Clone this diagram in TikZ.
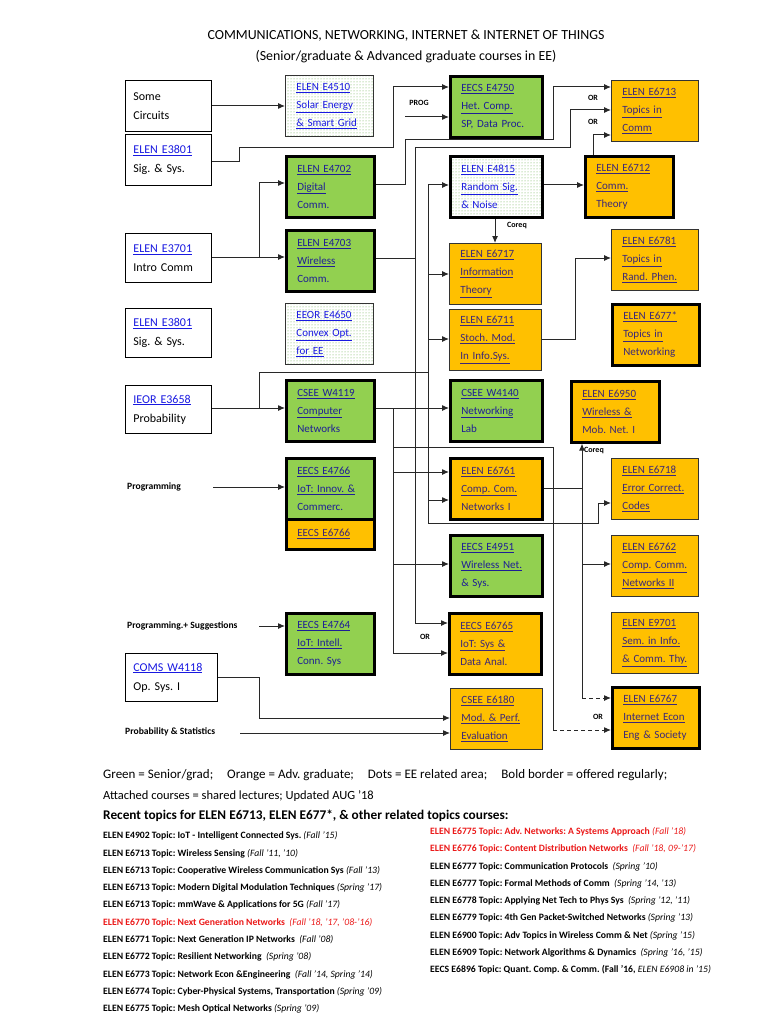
\documentclass[tikz,border=0pt]{standalone}
\usepackage{fontspec}
\setmainfont{Carlito}
\usetikzlibrary{arrows.meta,patterns}
\definecolor{grn}{RGB}{146,208,80}
\definecolor{org}{RGB}{255,192,0}
\definecolor{lnk}{RGB}{25,25,225}
\definecolor{glnk}{RGB}{30,30,150}
\definecolor{olnk}{RGB}{60,40,120}
\definecolor{dotc}{RGB}{100,170,70}
\definecolor{topred}{RGB}{235,25,25}
\definecolor{lin}{RGB}{40,40,40}
\newcommand{\lk}[1]{\underline{#1}}
\newcommand{\tdate}[1]{{\mdseries\itshape #1}}
\frenchspacing
\begin{document}
\begin{tikzpicture}[x=1pt,y=-1pt,
 every node/.style={inner sep=0pt},
 base/.style={anchor=north west, minimum height=61pt, inner xsep=11pt, inner ysep=0pt, align=left, font=\fontsize{11}{18}\selectfont, execute at begin node={\hyphenpenalty=10000\exhyphenpenalty=10000}},
 thinb/.style={draw=black!80, line width=0.8pt},
 boldb/.style={draw=black, line width=2.6pt},
 gbox/.style={base, fill=grn, text=glnk},
 obox/.style={base, fill=org, text=olnk},
 dbox/.style={base, pattern=dots, pattern color=dotc, text=lnk},
 lbox/.style={anchor=north west, draw=black, line width=0.8pt, fill=white, inner xsep=8pt, align=left, font=\fontsize{12}{19}\selectfont, text width=70pt},
 ctwo/.style={text width=66pt},
 cthree/.style={text width=70pt},
 cright/.style={text width=65pt},
 arr/.style={draw=lin, line width=1pt, -{Latex[length=7pt,width=6pt]}},
 ln/.style={draw=lin, line width=1pt},
 dsh/.style={dash pattern=on 4pt off 3pt},
 lbl/.style={font=\fontsize{8}{9}\selectfont\bfseries},
 side/.style={anchor=west, font=\fontsize{9.6}{11}\selectfont\bfseries},
 leg/.style={anchor=west, font=\fontsize{12.5}{14}\selectfont},
 tp/.style={anchor=west, font=\fontsize{9.7}{10}\selectfont\bfseries},
]
\fill[white] (0,0) rectangle (768,1024);
\useasboundingbox (0,0) rectangle (768,1024);

% titles
\node[font=\fontsize{13.9}{15}\selectfont] (t1) at (406,36) {COMMUNICATIONS, NETWORKING, INTERNET \& INTERNET OF THINGS};
\node[font=\fontsize{13.9}{15}\selectfont] (t2) at (406,57) {(Senior/graduate \& Advanced graduate courses in EE)};

% left column
\node[lbox, minimum height=51pt] (circ) at (125,80) {Some\\Circuits};
\node[lbox, minimum height=51pt] (sig1) at (125,134) {\textcolor{lnk}{\lk{ELEN E3801}}\\Sig. \& Sys.};
\node[lbox, minimum height=49pt] (intro) at (125,233) {\textcolor{lnk}{\lk{ELEN E3701}}\\Intro Comm};
\node[lbox, minimum height=49pt] (sig2) at (125,308) {\textcolor{lnk}{\lk{ELEN E3801}}\\Sig. \& Sys.};
\node[lbox, minimum height=48pt] (prob) at (125,385) {\textcolor{lnk}{\lk{IEOR E3658}}\\Probability};
\node[lbox, minimum height=48pt, text width=76pt] (coms) at (125,653) {\textcolor{lnk}{\lk{COMS W4118}}\\Op. Sys. I};

\node[side] (sprog) at (127,487) {Programming};
\node[side] (ssug) at (127,626) {Programming.+ Suggestions};
\node[side] (sstat) at (125,732) {Probability \& Statistics};

% column 2
\node[dbox, thinb, ctwo] (e4510) at (285,75) {\lk{ELEN E4510}\\\lk{Solar Energy}\\\lk{\& Smart Grid}};
\node[gbox, boldb, ctwo] (e4702) at (285,155) {\lk{ELEN E4702}\\\lk{Digital}\\Comm.};
\node[gbox, boldb, ctwo] (e4703) at (285,229) {\lk{ELEN E4703}\\\lk{Wireless}\\Comm.};
\node[dbox, thinb, ctwo] (e4650) at (285,303) {\lk{EEOR E4650}\\\lk{Convex Opt.}\\\lk{for EE}};
\node[gbox, boldb, ctwo] (w4119) at (285,379) {\lk{CSEE W4119}\\\lk{Computer}\\Networks};
\node[gbox, boldb, ctwo] (e4766) at (285,457) {\lk{EECS E4766}\\\lk{IoT: Innov. \&}\\Commerc.};
\node[obox, boldb, ctwo, minimum height=30pt] (e6766) at (285,518) {\lk{EECS E6766}};
\node[gbox, boldb, ctwo] (e4764) at (285,612) {\lk{EECS E4764}\\\lk{IoT: Intell.}\\Conn. Sys};

% column 3
\node[gbox, boldb, cthree] (e4750) at (449,75) {\lk{EECS E4750}\\\lk{Het. Comp.}\\SP, Data Proc.};
\node[dbox, boldb, cthree] (e4815) at (449,155) {\lk{ELEN E4815}\\\lk{Random Sig.}\\\& Noise};
\node[obox, thinb, cthree] (e6717) at (449,243) {\lk{ELEN E6717}\\\lk{Information}\\\lk{Theory}};
\node[obox, thinb, cthree] (e6711) at (449,309) {\lk{ELEN E6711}\\\lk{Stoch. Mod.}\\\lk{In Info.Sys.}};
\node[gbox, boldb, cthree] (w4140) at (449,379) {\lk{CSEE W4140}\\\lk{Networking}\\Lab};
\node[obox, boldb, cthree] (e6761) at (449,457) {\lk{ELEN E6761}\\\lk{Comp. Com.}\\Networks I};
\node[gbox, boldb, cthree] (e4951) at (449,534) {\lk{EECS E4951}\\\lk{Wireless Net.}\\\& Sys.};
\node[obox, boldb, cthree] (e6765) at (448,612) {\lk{EECS E6765}\\\lk{IoT: Sys \&}\\Data Anal.};
\node[obox, thinb, cthree] (e6180) at (450,688) {\lk{CSEE E6180}\\\lk{Mod. \& Perf.}\\\lk{Evaluation}};

% right column
\node[obox, thinb, cright] (e6713) at (611,80) {\lk{ELEN E6713}\\\lk{Topics in}\\\lk{Comm}};
\node[obox, boldb, ctwo] (e6712) at (584,155) {\lk{ELEN E6712}\\\lk{Comm.}\\Theory};
\node[obox, thinb, cright] (e6781) at (611,229) {\lk{ELEN E6781}\\\lk{Topics in}\\\lk{Rand. Phen.}};
\node[obox, boldb, cright] (e677) at (611,303) {\lk{ELEN E677*}\\\lk{Topics in}\\Networking};
\node[obox, boldb, ctwo] (e6950) at (570,380) {\lk{ELEN E6950}\\\lk{Wireless \&}\\Mob. Net. I};
\node[obox, thinb, cright] (e6718) at (611,458) {\lk{ELEN E6718}\\\lk{Error Correct.}\\\lk{Codes}};
\node[obox, thinb, cright] (e6762) at (611,535) {\lk{ELEN E6762}\\\lk{Comp. Comm.}\\\lk{Networks II}};
\node[obox, thinb, cright] (e9701) at (611,612) {\lk{ELEN E9701}\\\lk{Sem. in Info.}\\\lk{\& Comm. Thy.}};
\node[obox, boldb, cright] (e6767) at (611,686) {\lk{ELEN E6767}\\\lk{Internet Econ}\\Eng \& Society};

% small labels
\node[lbl] (lprog) at (419,103) {PROG};
\node[lbl] (lor1) at (593,98) {OR};
\node[lbl] (lor2) at (593,122) {OR};
\node[lbl] (lco1) at (517,226) {Coreq};
\node[lbl, anchor=west] (lco2) at (584,451) {Coreq};
\node[lbl] (lor3) at (425,637) {OR};
\node[lbl] (lor4) at (598,717) {OR};

% free ends
\coordinate (progs) at (405,117);
\coordinate (pg1) at (213,487);
\coordinate (ps1) at (259,626);
\coordinate (pst) at (240,733);

% connectors
\draw[arr] (circ.east |- 0,106) -- (e4510.west |- 0,106);
\draw[arr] (sig1.east |- 0,162) -- (239,162) -- (239,148) -- (393,148) -- (393,87) -- (e4750.west |- 0,87);
\draw[arr] (progs) -- (e4750.west |- progs);
\draw[arr] (e4702.east |- 0,185) -- (405,185) -- (405,140) -- (553,140) -- (553,87) -- (e6713.west |- 0,87);
\draw[arr] (intro.east |- 0,257) -- (e4703.west |- 0,257);
\draw[arr] (259,257) -- (259,183) -- (e4702.west |- 0,183);
\draw[arr] (e4703.east |- 0,258) -- (415,258) -- (415,148) -- (570,148) -- (570,110) -- (e6713.west |- 0,110);
\draw[arr] (415,258) -- (415,623) -- (e6765.west |- 0,623);
\draw[arr] (e6712.north -| 593,0) -- (593,135) -- (e6713.west |- 0,135);
\draw[arr] (e4815.east |- 0,185) -- (e6712.west |- 0,185);
\draw[arr] (e4815.south -| 495,0) -- (e6717.north -| 495,0);
\draw[arr] (428,185) -- (e4815.west |- 0,185);
\draw[arr] (428,274) -- (e6717.west |- 0,274);
\draw[arr] (428,339) -- (e6711.west |- 0,339);
\draw[arr] (428,500) -- (e6761.west |- 0,500);
\draw[arr] (428,185) -- (428,523) -- (598,523) -- (598,503) -- (e6718.west |- 0,503);
\draw[arr] (prob.east |- 0,408) -- (w4119.west |- 0,408);
\draw[ln] (259,408) -- (259,372) -- (428,372);
\draw[arr] (e6711.east |- 0,339) -- (575,339) -- (575,258) -- (e6781.west |- 0,258);
\draw[arr] (w4119.east |- 0,408) -- (w4140.west |- 0,408);
\draw[arr] (393,408) -- (393,653) -- (e6765.west |- 0,653);
\draw[arr] (393,472) -- (e6761.west |- 0,472);
\draw[arr] (393,564) -- (e4951.west |- 0,564);
\draw[ln] (393,447) -- (553,447) -- (553,730);
\draw[arr, dsh] (553,730) -- (e6767.west |- 0,730);
\draw[ln] (e6761.east |- 0,488) -- (582,488);
\draw[arr] (582,488) -- (e6950.south -| 582,0);
\draw[ln] (582,488) -- (582,698);
\draw[arr, dsh] (582,698) -- (e6767.west |- 0,698);
\draw[arr] (582,564) -- (e6762.west |- 0,564);
\draw[arr] (pg1) -- (e4766.west |- pg1);
\draw[arr] (ps1) -- (e4764.west |- ps1);
\draw[arr] (coms.east |- 0,677) -- (259,677) -- (259,718) -- (e6180.west |- 0,718);
\draw[arr] (pst) -- (e6180.west |- pst);

% legend
\node[leg, font=\fontsize{13}{14}\selectfont] (lg1) at (103,775) {Green = Senior/grad;\hspace{14pt}Orange = Adv. graduate;\hspace{14pt}Dots = EE related area;\hspace{14pt}Bold border = offered regularly;};
\node[leg] (lg2) at (103,796) {Attached courses = shared lectures; Updated AUG '18};
\node[leg, font=\fontsize{13.3}{14}\selectfont\bfseries] (lg3) at (103,816) {Recent topics for ELEN E6713, ELEN E677*, \& other related topics courses:};

% topics left
\node[tp] (tl1) at (103,836) {ELEN E4902 Topic: IoT - Intelligent Connected Sys. \tdate{(Fall '15)}};
\node[tp] (tl2) at (103,853.3) {ELEN E6713 Topic: Wireless Sensing \tdate{(Fall '11, '10)}};
\node[tp] (tl3) at (103,870.6) {ELEN E6713 Topic: Cooperative Wireless Communication Sys \tdate{(Fall '13)}};
\node[tp] (tl4) at (103,887.9) {ELEN E6713 Topic: Modern Digital Modulation Techniques \tdate{(Spring '17)}};
\node[tp] (tl5) at (103,905.2) {ELEN E6713 Topic: mmWave \& Applications for 5G \tdate{(Fall '17)}};
\node[tp, text=topred] (tl6) at (103,922.5) {ELEN E6770 Topic: Next Generation Networks\ \ \tdate{(Fall '18, '17, '08-'16)}};
\node[tp] (tl7) at (103,939.8) {ELEN E6771 Topic: Next Generation IP Networks\ \ \tdate{(Fall '08)}};
\node[tp] (tl8) at (103,957.1) {ELEN E6772 Topic: Resilient Networking\ \ \tdate{(Spring '08)}};
\node[tp] (tl9) at (103,974.4) {ELEN E6773 Topic: Network Econ \&Engineering\ \ \tdate{(Fall '14, Spring '14)}};
\node[tp] (tl10) at (103,991.7) {ELEN E6774 Topic: Cyber-Physical Systems, Transportation \tdate{(Spring '09)}};
\node[tp] (tl11) at (103,1009) {ELEN E6775 Topic: Mesh Optical Networks \tdate{(Spring '09)}};

% topics right
\node[tp, text=topred] (tr1) at (430,832) {ELEN E6775 Topic: Adv. Networks: A Systems Approach \tdate{(Fall '18)}};
\node[tp, text=topred] (tr2) at (430,849.2) {ELEN E6776 Topic: Content Distribution Networks\ \ \tdate{(Fall '18, 09-'17)}};
\node[tp] (tr3) at (430,866.5) {ELEN E6777 Topic: Communication Protocols\ \ \tdate{(Spring '10)}};
\node[tp] (tr4) at (430,883.7) {ELEN E6777 Topic: Formal Methods of Comm\ \ \tdate{(Spring '14, '13)}};
\node[tp] (tr5) at (430,901) {ELEN E6778 Topic: Applying Net Tech to Phys Sys\ \ \tdate{(Spring '12, '11)}};
\node[tp] (tr6) at (430,918.2) {ELEN E6779 Topic: 4th Gen Packet-Switched Networks \tdate{(Spring '13)}};
\node[tp] (tr7) at (430,935.5) {ELEN E6900 Topic: Adv Topics in Wireless Comm \& Net \tdate{(Spring '15)}};
\node[tp] (tr8) at (430,952.7) {ELEN E6909 Topic: Network Algorithms \& Dynamics\ \ \tdate{(Spring '16, '15)}};
\node[tp] (tr9) at (430,970) {EECS E6896 Topic: Quant. Comp. \& Comm. (Fall '16, \tdate{ELEN E6908 in '15)}};
\end{tikzpicture}
\end{document}
